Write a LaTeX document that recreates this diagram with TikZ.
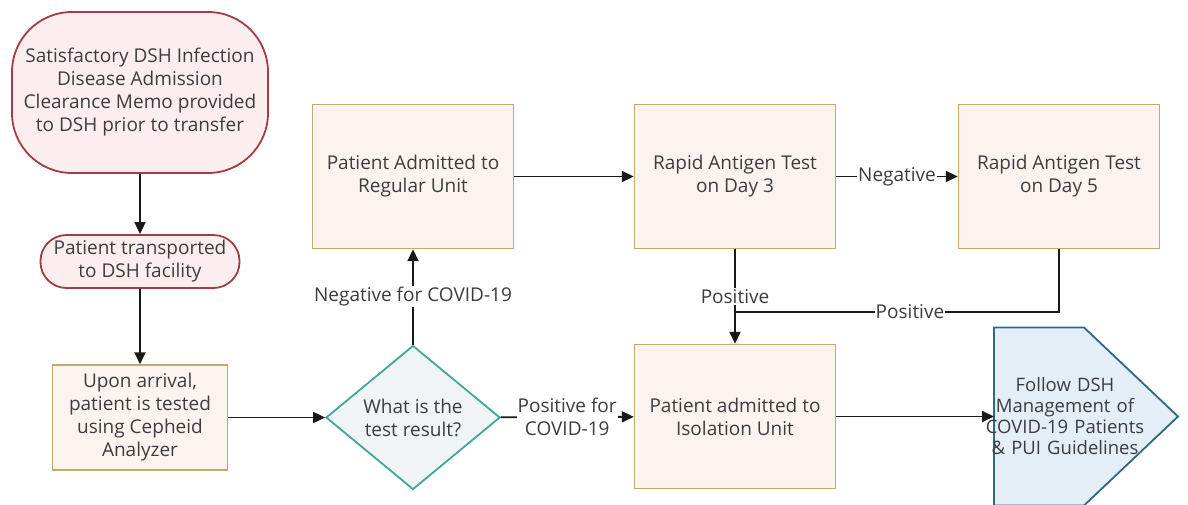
\documentclass[tikz,border=0pt]{standalone}
\usepackage{fontspec}
\setmainfont{Open Sans}
\usepackage{xcolor}
\usepackage{tikz}
\usetikzlibrary{shapes.geometric, arrows.meta}

\definecolor{termfill}{RGB}{252,238,238}
\definecolor{termdraw}{RGB}{160,62,68}
\definecolor{procfill}{RGB}{253,243,238}
\definecolor{procdraw}{RGB}{196,168,108}
\definecolor{decfill}{RGB}{240,244,244}
\definecolor{decdraw}{RGB}{62,168,152}
\definecolor{outfill}{RGB}{228,238,246}
\definecolor{outdraw}{RGB}{46,104,134}
\definecolor{textgrey}{RGB}{60,60,64}

\begin{document}
\begin{tikzpicture}[node distance=160pt, font=\fontsize{19pt}{23pt}\selectfont, text=textgrey]
      \tikzstyle{startstop} = [rectangle, rounded corners=26pt, minimum width=199pt, minimum height=53pt, text centered, align=center, draw=termdraw, fill=termfill, line width=1.8pt]
      \tikzstyle{process} = [rectangle, minimum width=201pt, minimum height=144pt, text centered, align=center, draw=procdraw, fill=procfill, line width=1.4pt]
      \tikzstyle{decision} = [diamond, aspect=1.2, inner sep=0pt, minimum width=174pt, minimum height=144pt, text centered, align=center, draw=decdraw, fill=decfill, line width=1.8pt]
      \tikzstyle{output} = [draw=outdraw, fill=outfill, line width=1.8pt]
      \tikzstyle{arrow} = [line width=1.8pt, black!90, -{Stealth[length=12pt, width=11pt, inset=0pt]}]
      \tikzstyle{lbl} = [fill=white, inner sep=1pt, align=center, text=textgrey]

      \useasboundingbox (0pt,0pt) rectangle (1188pt,-504pt);

      \node (start) [startstop, rounded corners=60pt, minimum width=256pt, minimum height=161pt] at (140pt,-92.5pt) {Satisfactory DSH Infection\\Disease Admission\\Clearance Memo provided\\to DSH prior to transfer};
      \node (transport) [startstop, below of=start, yshift=-9pt] {Patient transported\\to DSH facility};
      \draw [arrow] (start) -- (transport);
      \node (arrival) [process, below of=transport, yshift=4pt, minimum width=175pt, minimum height=105pt] {Upon arrival,\\patient is tested\\using Cepheid\\Analyzer};
      \draw [arrow] (transport) -- (arrival);
      \node (result) [decision, right of=arrival, xshift=113pt] {What is the\\test result?};
      \draw [arrow] (arrival) -- (result);
      \node (regular) [process, above of=result, yshift=81pt] {Patient Admitted to\\Regular Unit};
      \draw [arrow] (result) -- node [lbl] {Negative for COVID-19} (regular);
      \node (day3) [process, right of=regular, xshift=162pt] {Rapid Antigen Test\\on Day 3};
      \draw [arrow] (regular) -- (day3);
      \node (day5) [process, right of=day3, xshift=164pt] {Rapid Antigen Test\\on Day 5};
      \draw [arrow] (day3) -- node [lbl] {Negative} (day5);
      \node (isolation) [process, below of=day3, yshift=-80pt] {Patient admitted to\\Isolation Unit};
      \draw [arrow] (result) -- node [lbl] {Positive for\\COVID-19} (isolation);
      \draw [arrow] (day3) -- node [lbl] {Positive} (isolation);
      \coordinate (join) at ([yshift=-62.5pt]day5.south -| day3.south);
      \draw [line width=1.8pt, black!90] (day5.south) |- node [lbl, pos=0.73] {Positive} (join);

      % pentagon for the last step
      \node (fpos) [coordinate, right of=isolation, xshift=191pt] {};
      \draw [output] ([shift={(-92pt,89pt)}]fpos) -- ([shift={(-2pt,89pt)}]fpos) -- ([xshift=92pt]fpos) -- ([shift={(-2pt,-89pt)}]fpos) -- ([shift={(-92pt,-89pt)}]fpos) -- cycle;
      \node (follow) [minimum width=184pt, minimum height=178pt, align=center, font=\fontsize{18.5pt}{21pt}\selectfont, text width=170pt, xshift=-21pt] at (fpos) {Follow DSH\\Management of\\COVID-19 Patients\\\& PUI Guidelines};
      \draw [arrow] (isolation) -- ([xshift=-92pt]fpos);

\end{tikzpicture}
\end{document}
